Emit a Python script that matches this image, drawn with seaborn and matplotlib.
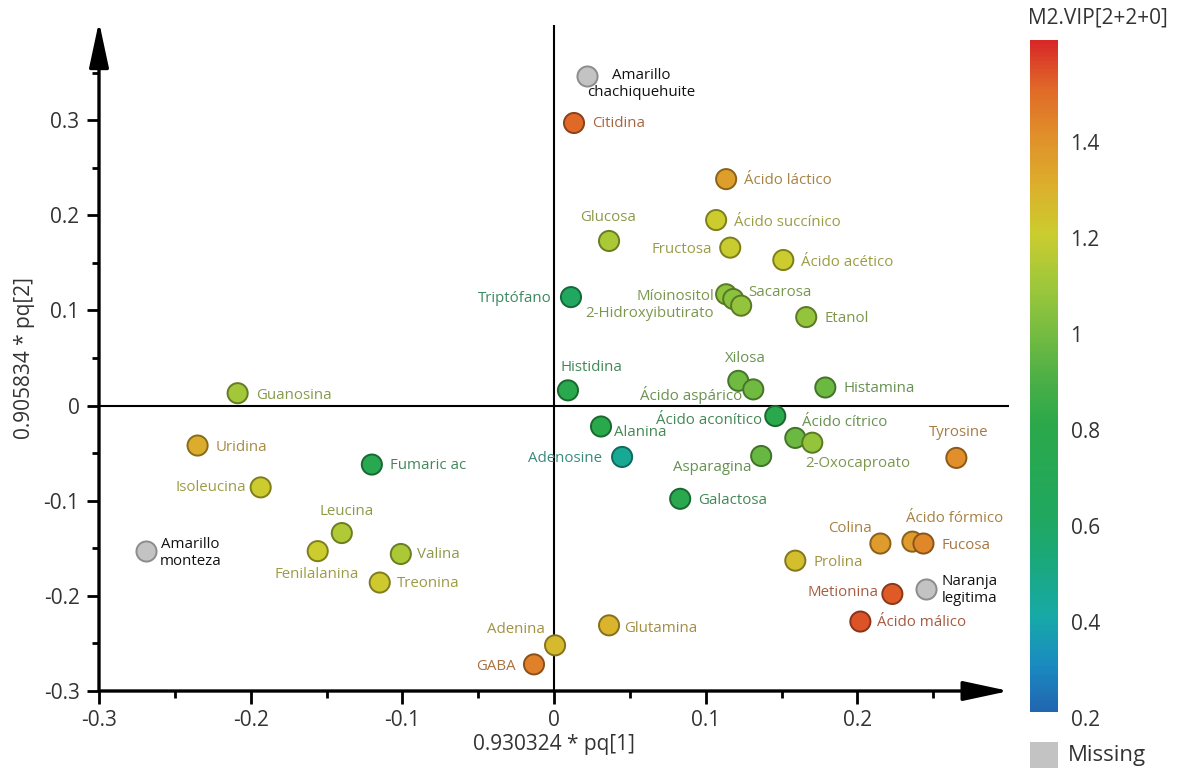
import numpy as np
import pandas as pd
import matplotlib
matplotlib.use("Agg")
import matplotlib.pyplot as plt
import matplotlib.colors as mcolors
import matplotlib.transforms as mtransforms
from matplotlib.patches import Rectangle
import seaborn as sns

# ---- data: loadings (pq[1], pq[2]) and VIP values (NaN = missing) ----
names = [
    "Amarillo\nchachiquehuite", "Citidina", "Ácido láctico", "Glucosa", "Ácido succínico",
    "Fructosa", "Ácido acético", "Triptófano", "Míoinositol", "Sacarosa",
    "2-Hidroxyibutirato", "Etanol", "Histidina", "Xilosa", "Ácido aspárico",
    "Histamina", "Guanosina", "Ácido aconítico", "Alanina", "Ácido cítrico",
    "2-Oxocaproato", "Tyrosine", "Adenosine", "Asparagina", "Uridina",
    "Fumaric ac", "Isoleucina", "Galactosa", "Leucina", "Fenilalanina",
    "Valina", "Treonina", "Amarillo\nmonteza", "Colina", "Ácido fórmico",
    "Fucosa", "Prolina", "Metionina", "Naranja\nlegitima", "Ácido málico",
    "Glutamina", "Adenina", "GABA",
]
pq1 = [
    0.0218, 0.0132, 0.1135, 0.0363, 0.1069,
    0.1162, 0.1512, 0.0112, 0.1135, 0.1182,
    0.1234, 0.1663, 0.0092, 0.1215, 0.1314,
    0.1789, -0.2086, 0.1459, 0.0310, 0.1591,
    0.1703, 0.2653, 0.0449, 0.1366, -0.2350,
    -0.1201, -0.1934, 0.0832, -0.1399, -0.1558,
    -0.1010, -0.1149, -0.2693, 0.2152, 0.2363,
    0.2436, 0.1591, 0.2231, 0.2455, 0.2020,
    0.0363, 0.0007, -0.0132,
]
pq2 = [
    0.346, 0.297, 0.238, 0.173, 0.195,
    0.166, 0.153, 0.114, 0.117, 0.112,
    0.105, 0.093, 0.016, 0.026, 0.017,
    0.019, 0.013, -0.011, -0.022, -0.034,
    -0.039, -0.055, -0.054, -0.053, -0.042,
    -0.062, -0.086, -0.098, -0.134, -0.153,
    -0.156, -0.186, -0.153, -0.145, -0.143,
    -0.145, -0.163, -0.198, -0.193, -0.227,
    -0.231, -0.252, -0.272,
]
vip = [
    np.nan, 1.50, 1.35, 1.12, 1.20,
    1.19, 1.20, 0.60, 1.05, 1.04,
    1.06, 1.06, 0.76, 0.98, 0.98,
    0.97, 1.10, 0.78, 0.78, 0.97,
    1.06, 1.40, 0.45, 0.96, 1.30,
    0.74, 1.20, 0.76, 1.13, 1.20,
    1.12, 1.21, np.nan, 1.36, 1.36,
    1.42, 1.24, 1.52, np.nan, 1.53,
    1.28, 1.26, 1.44,
]
x_ticks = [-0.3, -0.2, -0.1, 0, 0.1, 0.2]
x_ticklabels = ["-0.3", "-0.2", "-0.1", "0", "0.1", "0.2"]
y_ticks = [-0.3, -0.2, -0.1, 0, 0.1, 0.2, 0.3]
y_ticklabels = ["-0.3", "-0.2", "-0.1", "0", "0.1", "0.2", "0.3"]
cbar_ticks = [0.2, 0.4, 0.6, 0.8, 1.0, 1.2, 1.4]
cbar_ticklabels = ["0.2", "0.4", "0.6", "0.8", "1", "1.2", "1.4"]

# label placement: (dx px, dy px downward, horizontal alignment)
label_pos = {
    "Amarillo\nchachiquehuite": (54, 8, "center"),
    "Citidina": (18, 1, "left"),
    "Ácido láctico": (18, 1, "left"),
    "Glucosa": (-1, -23, "center"),
    "Ácido succínico": (18, 2, "left"),
    "Fructosa": (-18, 2, "right"),
    "Ácido acético": (18, 2, "left"),
    "Triptófano": (-19, 1, "right"),
    "Míoinositol": (-12, 2, "right"),
    "Sacarosa": (15, -7, "left"),
    "2-Hidroxyibutirato": (-27, 8, "right"),
    "Etanol": (18, 1, "left"),
    "Histidina": (23, -23, "center"),
    "Xilosa": (7, -22, "center"),
    "Ácido aspárico": (-11, 6, "right"),
    "Histamina": (18, 1, "left"),
    "Guanosina": (19, 2, "left"),
    "Ácido aconítico": (-13, 4, "right"),
    "Alanina": (13, 6, "left"),
    "Ácido cítrico": (7, -15, "left"),
    "2-Oxocaproato": (-7, 21, "left"),
    "Tyrosine": (2, -25, "center"),
    "Adenosine": (-20, 2, "right"),
    "Asparagina": (-10, 12, "right"),
    "Uridina": (18, 2, "left"),
    "Fumaric ac": (18, 1, "left"),
    "Isoleucina": (-15, 0, "right"),
    "Galactosa": (18, 2, "left"),
    "Leucina": (5, -22, "center"),
    "Fenilalanina": (-1, 23, "center"),
    "Valina": (16, 1, "left"),
    "Treonina": (17, 1, "left"),
    "Amarillo\nmonteza": (45, 2, "center"),
    "Colina": (-9, -15, "right"),
    "Ácido fórmico": (-6, -23, "left"),
    "Fucosa": (18, 2, "left"),
    "Prolina": (18, 2, "left"),
    "Metionina": (-14, -1, "right"),
    "Naranja\nlegitima": (43, 1, "center"),
    "Ácido málico": (17, 1, "left"),
    "Glutamina": (15, 3, "left"),
    "Adenina": (-10, -16, "right"),
    "GABA": (-18, 2, "right"),
}

df = pd.DataFrame({"name": names, "pq1": pq1, "pq2": pq2, "vip": vip})
have = df[df["vip"].notna()]
missing = df[df["vip"].isna()]

sns.set_theme(style="white")
plt.rcParams["font.family"] = ["Open Sans", "DejaVu Sans"]

vmin, vmax = 0.2, 1.6
vip_cmap = mcolors.LinearSegmentedColormap.from_list(
    "vip",
    [((v - vmin) / (vmax - vmin), c) for v, c in [
        (0.2, "#2166b0"), (0.3, "#1a8cc0"), (0.4, "#17aaa6"), (0.5, "#1aa880"),
        (0.6, "#20a860"), (0.8, "#2ba84a"), (0.9, "#4eb046"), (1.0, "#7abd40"),
        (1.1, "#a2c83a"), (1.2, "#cccc2e"), (1.3, "#dcae2c"), (1.4, "#e0902a"),
        (1.5, "#e06a28"), (1.6, "#d82828"),
    ]],
)
norm = mcolors.Normalize(vmin=vmin, vmax=vmax)

W, H = 1179, 772
fig = plt.figure(figsize=(W / 100, H / 100), dpi=100)
ax = fig.add_axes([99 / W, 81 / H, 910 / W, 666 / H])

ax.axhline(0, color="black", lw=1.5, zorder=1)
ax.axvline(0, color="black", lw=1.5, zorder=1)

sns.scatterplot(data=missing, x="pq1", y="pq2", color="#c3c3c3", s=210,
                linewidth=1.4, edgecolor="#8c8c8c", ax=ax, zorder=3, legend=False)
sns.scatterplot(data=have, x="pq1", y="pq2", hue="vip", palette=vip_cmap,
                hue_norm=norm, s=210, linewidth=1.4, ax=ax, zorder=3, legend=False)

# darker rims and muted label colours derived from each point's fill
face = [vip_cmap(norm(v)) for v in have["vip"]]
rims = [tuple(np.array(c[:3]) * 0.62) for c in face]
ax.collections[-1].set_edgecolor(rims)

gray = np.array([0.38, 0.38, 0.38])
for _, r in df.iterrows():
    if np.isnan(r["vip"]):
        tcol = "#111111"
    else:
        c = np.array(vip_cmap(norm(r["vip"]))[:3])
        tcol = tuple(0.55 * c + 0.45 * gray)
    dx, dy, ha = label_pos[r["name"]]
    ax.annotate(r["name"], (r["pq1"], r["pq2"]), xytext=(dx, -dy),
                textcoords="offset pixels", ha=ha, va="center",
                multialignment="center", fontsize=10.8, color=tcol, zorder=4,
                linespacing=1.2)

ax.set_xlim(-0.3, 0.3)
ax.set_ylim(-0.3, 0.40)
ax.set_xticks(x_ticks)
ax.set_xticklabels(x_ticklabels)
ax.set_yticks(y_ticks)
ax.set_yticklabels(y_ticklabels)
ax.set_xticks(np.arange(-0.25, 0.3, 0.1), minor=True)
ax.set_yticks(np.arange(-0.25, 0.4, 0.1), minor=True)
ax.tick_params(which="major", direction="out", length=9, width=2, color="black",
               labelsize=15, labelcolor="#333333", pad=5,
               bottom=True, left=True)
ax.tick_params(which="minor", direction="out", length=5, width=2, color="black",
               bottom=True, left=True)
ax.set_xlabel("0.930324 * pq[1]", fontsize=15, color="#333333", labelpad=2)
ax.set_ylabel("0.905834 * pq[2]", fontsize=15, color="#333333", labelpad=6)
for s in ax.spines.values():
    s.set_visible(False)

# axis lines with arrow heads
arrow_kw = dict(arrowstyle="-|>,head_length=1.4,head_width=0.3", color="black",
                lw=2.4, shrinkA=0, shrinkB=0, mutation_scale=20)
ax.annotate("", xy=(0, 1.005), xycoords="axes fraction", xytext=(0, 0),
            textcoords="axes fraction", arrowprops=arrow_kw, annotation_clip=False)
ax.annotate("", xy=(1.0, 0), xycoords="axes fraction", xytext=(0, 0),
            textcoords="axes fraction", arrowprops=arrow_kw, annotation_clip=False)

# colour scale
cax = fig.add_axes([1030 / W, (H - 712) / H, 28 / W, 672 / H])
sm = matplotlib.cm.ScalarMappable(norm=norm, cmap=vip_cmap)
cb = fig.colorbar(sm, cax=cax, ticks=cbar_ticks)
cb.ax.set_yticklabels(cbar_ticklabels)
cb.outline.set_visible(False)
cb.ax.tick_params(length=0, labelsize=15, labelcolor="#333333", pad=9)
shift = mtransforms.ScaledTranslation(0, -6 / 100, fig.dpi_scale_trans)
for lab in cb.ax.get_yticklabels():
    lab.set_transform(lab.get_transform() + shift)
fig.text(1028 / W, 1 - 18 / H, "M2.VIP[2+2+0]", fontsize=15, color="#333333",
         ha="left", va="center")
fig.add_artist(Rectangle((1030 / W, 1 - 768 / H), 28 / W, 26 / H,
                         transform=fig.transFigure, facecolor="#c3c3c3",
                         edgecolor="none"))
fig.text(1068 / W, 1 - 755 / H, "Missing", fontsize=16, color="#333333",
         ha="left", va="center")

fig.savefig("out.png", dpi=100)
